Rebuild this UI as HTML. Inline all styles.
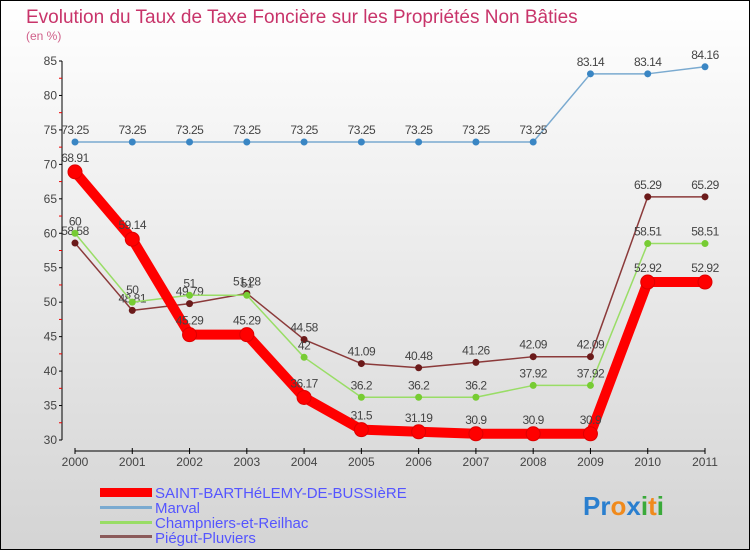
<!DOCTYPE html>
<html><head><meta charset="utf-8"><style>
body{margin:0;width:750px;height:550px;overflow:hidden;font-family:"Liberation Sans",sans-serif}
svg{display:block}
</style></head><body>
<svg width="750" height="550" xmlns="http://www.w3.org/2000/svg">
<defs><linearGradient id="bg" x1="0" y1="0" x2="0" y2="1"><stop offset="0" stop-color="#ffffff"/><stop offset="1" stop-color="#d4d4d4"/></linearGradient></defs>
<rect x="0.5" y="0.5" width="749" height="549" fill="url(#bg)" stroke="#000"/>
<text x="26" y="23" font-size="19" fill="#c8346a">Evolution du Taux de Taxe Foncière sur les Propriétés Non Bâties</text>
<text x="26" y="40" font-size="12" fill="#d0608a">(en %)</text>
<g id="axes"></g>
<g id="series"></g>
<g id="legend">
<rect x="100" y="488" width="52" height="9" fill="#ff0000"/>
<text x="155" y="498" font-size="15" fill="#5555ff">SAINT-BARTHéLEMY-DE-BUSSIèRE</text>
<rect x="100" y="506" width="52" height="3" fill="#7aaad0"/>
<text x="155" y="513" font-size="15" fill="#5555ff">Marval</text>
<rect x="100" y="521" width="52" height="3" fill="#99dd66"/>
<text x="155" y="528" font-size="15" fill="#5555ff">Champniers-et-Reilhac</text>
<rect x="100" y="535" width="52" height="3" fill="#8b5a5a"/>
<text x="155" y="543" font-size="15" fill="#5555ff">Piégut-Pluviers</text>
</g>
<text x="583" y="515" font-size="26" font-weight="bold"><tspan fill="#2a7fcf">Pr</tspan><tspan fill="#f08a1c">o</tspan><tspan fill="#2a7fcf">x</tspan><tspan fill="#3aaa3a">i</tspan><tspan fill="#f08a1c">t</tspan><tspan fill="#3aaa3a">i</tspan></text>
</svg>
<script>
const years=["2000","2001","2002","2003","2004","2005","2006","2007","2008","2009","2010","2011"];
const yTicks=[30,35,40,45,50,55,60,65,70,75,80,85];
const saint=[68.91,59.14,45.29,45.29,36.17,31.5,31.19,30.9,30.9,30.9,52.92,52.92];
const marval=[73.25,73.25,73.25,73.25,73.25,73.25,73.25,73.25,73.25,83.14,83.14,84.16];
const champ=[60,50,51,51,42,36.2,36.2,36.2,37.92,37.92,58.51,58.51];
const piegut=[58.58,48.81,49.79,51.28,44.58,41.09,40.48,41.26,42.09,42.09,65.29,65.29];
const NS="http://www.w3.org/2000/svg";
function X(i){return 75+i*(630/11);}
function Y(v){return 440-(v-30)*(379/55);}
function mk(tag,attrs,parent){const e=document.createElementNS(NS,tag);for(const k in attrs)e.setAttribute(k,attrs[k]);parent.appendChild(e);return e;}
const ax=document.getElementById('axes');
let l=mk('line',{x1:62,y1:61,x2:62,y2:440,stroke:'#000','stroke-width':1},ax);


l=mk('line',{x1:75,y1:451,x2:705,y2:451,stroke:'#000','stroke-width':1},ax);


yTicks.forEach((t,i)=>{
 const y=Y(t);
 mk('line',{x1:59,y1:y,x2:62,y2:y,stroke:'#000'},ax);
 if(i<yTicks.length-1){mk('line',{x1:59,y1:Y(t+2.5),x2:62,y2:Y(t+2.5),stroke:'#e00'},ax);}
 const tx=mk('text',{x:57,y:y+4,'font-size':12,fill:'#444','text-anchor':'end'},ax);
 tx.textContent=t;
 
 
});
years.forEach((yr,i)=>{
 mk('line',{x1:X(i),y1:448,x2:X(i),y2:454,stroke:'#000'},ax);
 const tx=mk('text',{x:X(i),y:466,'font-size':12,fill:'#444','text-anchor':'middle'},ax);
 tx.textContent=yr;
 
 
});
const sg=document.getElementById('series');
function draw(vals,name,lc,lw,mc,r){
 const g=mk('g',{},sg);
 
 
 const p=mk('polyline',{points:vals.map((v,i)=>X(i)+','+Y(v)).join(' '),fill:'none',stroke:lc,'stroke-width':lw,'stroke-linejoin':'round'},g);
 
 
 vals.forEach((v,i)=>{
  const c=mk('circle',{cx:X(i),cy:Y(v),r:r,fill:mc,stroke:lc==='#ff0000'?'#d00':'none'},g);
  
  
  const t=mk('text',{x:X(i),y:Y(v)-8-(r>5?2:0),'font-size':12,fill:'#444','text-anchor':'middle','letter-spacing':'-0.5'},g);
  t.textContent=v;
  
  
 });
}
draw(marval,'marval','#7aaad0',1.5,'#3a86c4',3.5);
draw(piegut,'piegut','#8b3a3a',1.5,'#6b1a1a',3.5);
draw(champ,'champniers','#99dd66',1.5,'#77cc33',3.5);
draw(saint,'saint','#ff0000',10,'#ff0000',7);
</script>
</body></html>
